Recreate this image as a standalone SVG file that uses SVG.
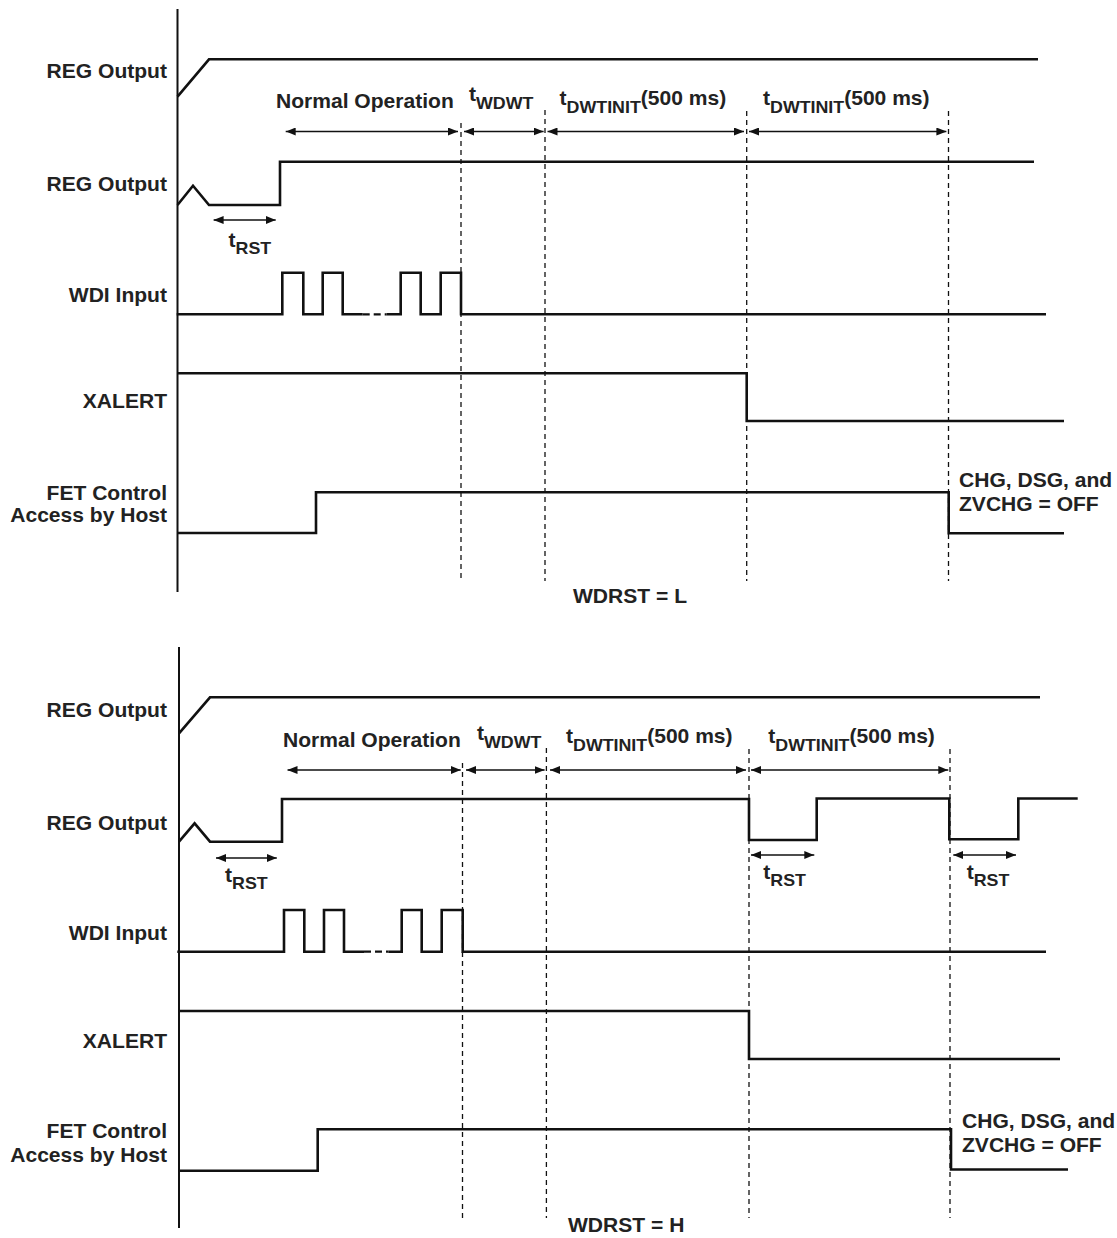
<svg xmlns="http://www.w3.org/2000/svg" width="1117" height="1238" viewBox="0 0 1117 1238">
<style>
.lbl{font-family:"Liberation Sans",Arial,Helvetica,sans-serif;font-weight:bold;font-size:19.5px;fill:#222}
.sub{font-size:16.5px}
.end{text-anchor:end}
.wave{fill:none;stroke:#111;stroke-width:2.6;stroke-linejoin:miter}
.axis{fill:none;stroke:#111;stroke-width:2}
.dash{fill:none;stroke:#111;stroke-width:1.3;stroke-dasharray:5,4}
.arr{fill:none;stroke:#111;stroke-width:1.5;marker-start:url(#ah);marker-end:url(#ah)}
.wdash{fill:none;stroke:#111;stroke-width:2.2;stroke-dasharray:7,4}
</style>
<defs>
<marker id="ah" viewBox="0 0 10 8" refX="10" refY="4" markerWidth="10" markerHeight="8" markerUnits="userSpaceOnUse" orient="auto-start-reverse">
<path d="M0,0 L10,4 L0,8 z" fill="#111"/>
</marker>
</defs>
<rect width="1117" height="1238" fill="#fff"/>

<!-- ===== TOP PANEL (WDRST = L) ===== -->
<g id="top-axis"><path class="axis" d="M177.5,9 V592"/></g>

<g id="top-reg1">
<text class="lbl end" transform="translate(167,78) scale(1.08,1)">REG Output</text>
<path class="wave" d="M177.5,96.7 L209,59.3 H1038"/>
</g>
<g id="top-reg2">
<text class="lbl end" transform="translate(167,191) scale(1.08,1)">REG Output</text>
<path class="wave" d="M177.5,205 L193,185.7 L209,205 H280 V161.7 H1034"/>
</g>
<g id="top-wdi">
<text class="lbl end" transform="translate(167,302) scale(1.08,1)">WDI Input</text>
<path class="wave" d="M176.7,314.3 H282.3 V272.7 H303.3 V314.3 H322.7 V272.7 H342.7 V314.3 H362.7"/>
<path class="wdash" d="M362.7,314.3 H386.7"/>
<path class="wave" d="M386.7,314.3 H400.7 V272.7 H420.7 V314.3 H440.7 V272.7 H461 V314.3 H1046"/>
</g>
<g id="top-xalert">
<text class="lbl end" transform="translate(167,408) scale(1.08,1)">XALERT</text>
<path class="wave" d="M177.5,373.3 H746.7 V421 H1064"/>
</g>
<g id="top-fet">
<text class="lbl end" transform="translate(167,500) scale(1.08,1)">FET Control</text>
<text class="lbl end" transform="translate(167,522) scale(1.08,1)">Access by Host</text>
<path class="wave" d="M177.5,533 H316 V492.3 H948.7 V533.3 H1064"/>
<text class="lbl" transform="translate(959,487) scale(1.08,1)">CHG, DSG, and</text>
<text class="lbl" transform="translate(959,511) scale(1.08,1)">ZVCHG = OFF</text>
</g>
<g id="top-timing-labels">
<text class="lbl" transform="translate(276,108) scale(1.08,1)">Normal Operation</text>
<text class="lbl" transform="translate(469,101) scale(1.08,1)">t<tspan class="sub" dy="7.5">WDWT</tspan></text>
<text class="lbl" transform="translate(559.6,105) scale(1.08,1)">t<tspan class="sub" dy="8">DWTINIT</tspan><tspan dy="-8">(500 ms)</tspan></text>
<text class="lbl" transform="translate(763,105) scale(1.08,1)">t<tspan class="sub" dy="8">DWTINIT</tspan><tspan dy="-8">(500 ms)</tspan></text>
<text class="lbl" transform="translate(228.6,247) scale(1.08,1)">t<tspan class="sub" dy="7">RST</tspan></text>
<text class="lbl" transform="translate(573,603) scale(1.08,1)">WDRST = L</text>
</g>

<g id="top-connectors">
<path class="dash" d="M461,123 V581"/>
<path class="dash" d="M545,110 V581"/>
<path class="dash" d="M746.7,111 V581"/>
<path class="dash" d="M948.5,111 V581"/>
<path class="arr" d="M285.7,131.5 H458"/>
<path class="arr" d="M464,131.5 H543.6"/>
<path class="arr" d="M547.5,131.5 H744"/>
<path class="arr" d="M749,131.5 H946.4"/>
<path class="arr" d="M213.6,220 H275.7"/>
</g>

<!-- ===== BOTTOM PANEL (WDRST = H) ===== -->
<g id="bot-axis"><path class="axis" d="M179,647 V1228"/></g>

<g id="bot-reg1">
<text class="lbl end" transform="translate(167,717) scale(1.08,1)">REG Output</text>
<path class="wave" d="M179,733.3 L210,697.3 H1040"/>
</g>
<g id="bot-reg2">
<text class="lbl end" transform="translate(167,830) scale(1.08,1)">REG Output</text>
<path class="wave" d="M179,841.7 L194.6,823.3 L210,841.7 H282 V799 H749 V840 H816.7 V798.5 H949.3 V839.3 H1018.3 V798.5 H1077.7"/>
</g>
<g id="bot-wdi">
<text class="lbl end" transform="translate(167,940) scale(1.08,1)">WDI Input</text>
<path class="wave" d="M177.3,951.7 H284 V910 H304.3 V951.7 H324 V910 H344 V951.7 H364"/>
<path class="wdash" d="M364,951.7 H388.3"/>
<path class="wave" d="M388.3,951.7 H401.7 V910 H421.7 V951.7 H441.7 V910 H462.7 V951.7 H1046"/>
</g>
<g id="bot-xalert">
<text class="lbl end" transform="translate(167,1048) scale(1.08,1)">XALERT</text>
<path class="wave" d="M179,1011 H749 V1059 H1060"/>
</g>
<g id="bot-fet">
<text class="lbl end" transform="translate(167,1138) scale(1.08,1)">FET Control</text>
<text class="lbl end" transform="translate(167,1162) scale(1.08,1)">Access by Host</text>
<path class="wave" d="M179,1170.7 H317.7 V1129.3 H951 V1169.5 H1068"/>
<text class="lbl" transform="translate(962,1128) scale(1.08,1)">CHG, DSG, and</text>
<text class="lbl" transform="translate(962,1152) scale(1.08,1)">ZVCHG = OFF</text>
</g>
<g id="bot-timing-labels">
<text class="lbl" transform="translate(283,747) scale(1.08,1)">Normal Operation</text>
<text class="lbl" transform="translate(477,740) scale(1.08,1)">t<tspan class="sub" dy="7.5">WDWT</tspan></text>
<text class="lbl" transform="translate(566,743) scale(1.08,1)">t<tspan class="sub" dy="8">DWTINIT</tspan><tspan dy="-8">(500 ms)</tspan></text>
<text class="lbl" transform="translate(768.3,743) scale(1.08,1)">t<tspan class="sub" dy="8">DWTINIT</tspan><tspan dy="-8">(500 ms)</tspan></text>
<text class="lbl" transform="translate(225,882) scale(1.08,1)">t<tspan class="sub" dy="7">RST</tspan></text>
<text class="lbl" transform="translate(763.3,879) scale(1.08,1)">t<tspan class="sub" dy="7">RST</tspan></text>
<text class="lbl" transform="translate(966.7,879) scale(1.08,1)">t<tspan class="sub" dy="7">RST</tspan></text>
<text class="lbl" transform="translate(568,1232) scale(1.08,1)">WDRST = H</text>
</g>

<g id="bot-connectors">
<path class="dash" d="M462.5,763 V1218"/>
<path class="dash" d="M546.4,748 V1218"/>
<path class="dash" d="M749,749 V1218"/>
<path class="dash" d="M950,749 V1218"/>
<path class="arr" d="M287.5,770 H460.7"/>
<path class="arr" d="M466,770 H544.6"/>
<path class="arr" d="M550,770 H746"/>
<path class="arr" d="M751,770 H948.3"/>
<path class="arr" d="M216,858 H276.8"/>
<path class="arr" d="M751,855 H814.3"/>
<path class="arr" d="M953.3,855 H1016"/>
</g>
</svg>
